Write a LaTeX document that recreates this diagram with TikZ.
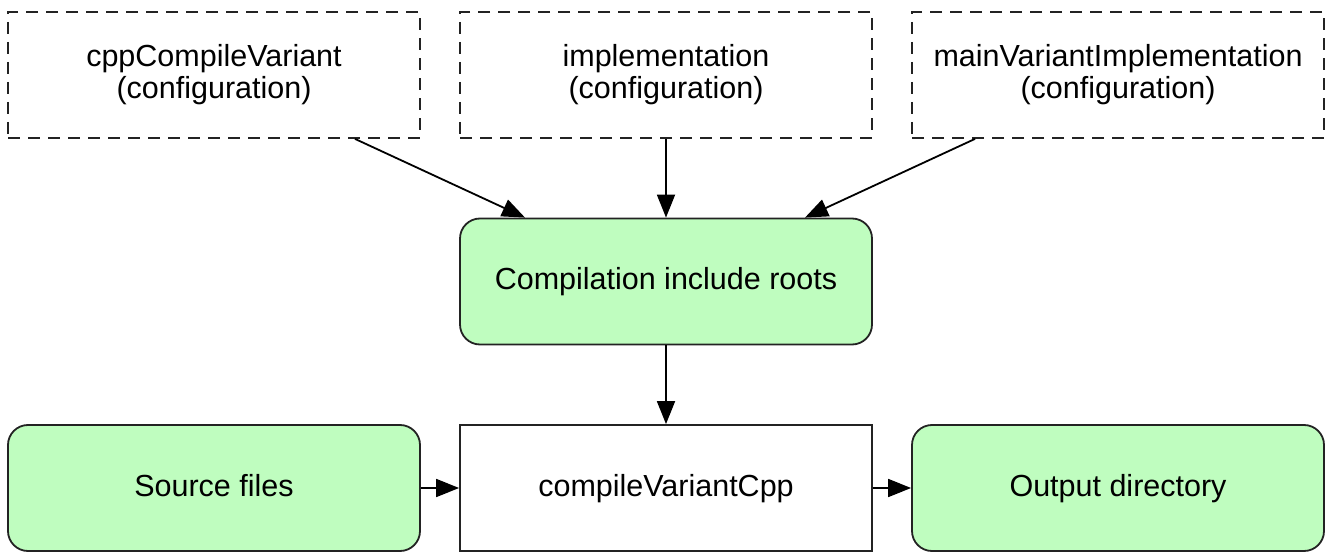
\documentclass[tikz,border=0pt]{standalone}
\usepackage{fontspec}
\setmainfont{Liberation Sans}
\usetikzlibrary{arrows.meta}
\definecolor{boxgreen}{RGB}{191,253,191}
\definecolor{edge}{RGB}{35,35,35}
\tikzset{
  basebox/.style={minimum width=412pt, minimum height=126pt, inner sep=0pt, align=center,
    font=\fontsize{30.5}{32}\selectfont, line width=1.8pt, draw=edge},
  cfgbox/.style={basebox, dash pattern=on 12pt off 8pt},
  onebox/.style={basebox, text height=22pt, text depth=6pt},
  greenbox/.style={onebox, fill=boxgreen, rounded corners=20pt},
  taskbox/.style={onebox, fill=white},
  conn/.style={line width=1.8pt, draw=black, -{Triangle[length=23pt,width=18pt]}}
}
\begin{document}
\begin{tikzpicture}[x=1pt,y=-1pt]
\useasboundingbox (0,0) rectangle (1330,553);
\node[cfgbox] (cfg1) at (214,75) {cppCompileVariant\\(configuration)};
\node[cfgbox] (cfg2) at (666,75) {implementation\\(configuration)};
\node[cfgbox] (cfg3) at (1118,75) {mainVariantImplementation\\(configuration)};
\node[greenbox] (roots) at (666,281.5) {Compilation include roots};
\node[greenbox] (src) at (214,488) {Source files};
\node[taskbox] (task) at (666,488) {compileVariantCpp};
\node[greenbox] (out) at (1118,488) {Output directory};
\draw[conn] ([xshift=141pt]cfg1.south) -- ([xshift=-141pt]roots.north);
\draw[conn] (cfg2.south) -- (roots.north);
\draw[conn] ([xshift=-143pt]cfg3.south) -- ([xshift=139pt]roots.north);
\draw[conn] (roots.south) -- (task.north);
\draw[conn] (src.east) -- (task.west);
\draw[conn] (task.east) -- (out.west);
\end{tikzpicture}
\end{document}
